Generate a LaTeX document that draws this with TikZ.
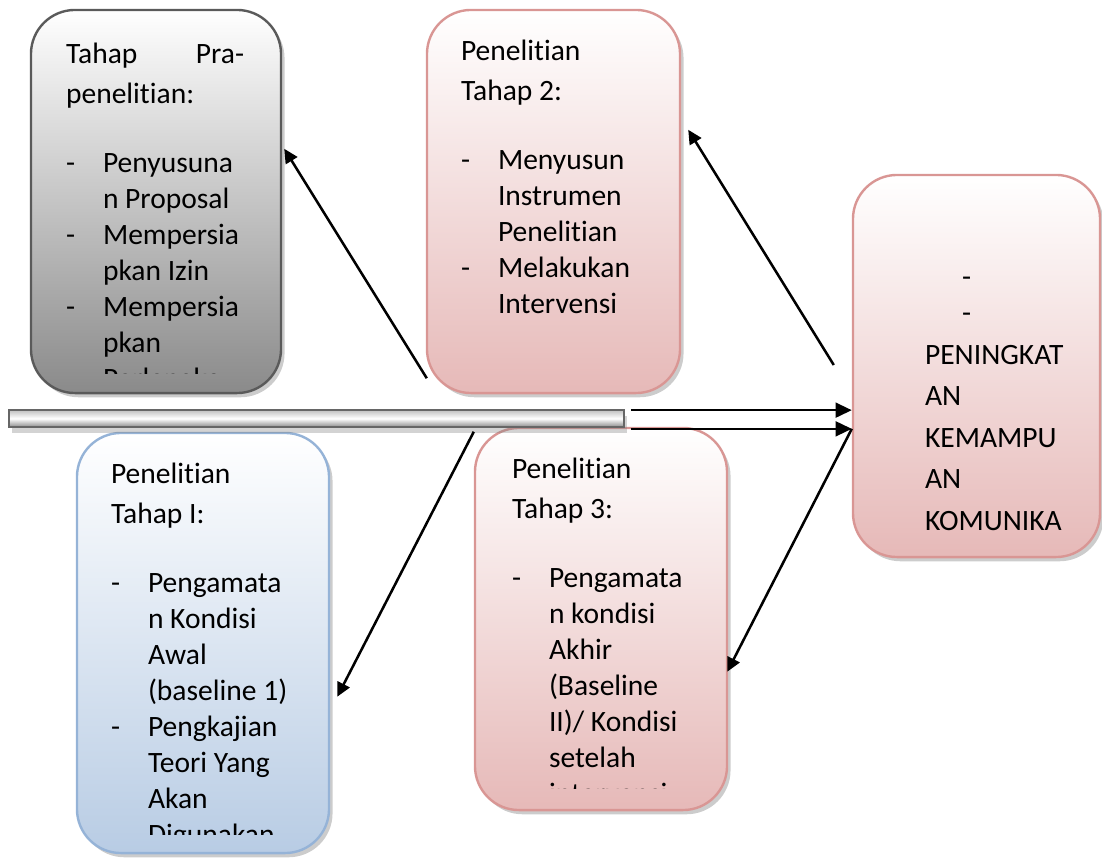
\documentclass[tikz,border=0pt]{standalone}
\usepackage{fontspec}
\setmainfont{Carlito}[Ligatures=NoCommon]
\usetikzlibrary{positioning,arrows.meta,shapes,calc,shadows}

\definecolor{pinkline}{HTML}{D99694}
\definecolor{pinkfill}{HTML}{E6B9B8}
\definecolor{blueline}{HTML}{95B3D7}
\definecolor{bluefill}{HTML}{B8CCE4}
\definecolor{grayline}{HTML}{5A5A5A}
\definecolor{grayfill}{HTML}{8A8A8A}

\newcommand{\butir}[1]{\makebox[26.3pt][l]{-}#1}
\newcommand{\lanjut}[1]{\hspace*{26.3pt}#1}

\tikzset{
  stage/.style={draw, line width=1.7pt, rectangle, rounded corners=1.1cm,
    drop shadow={shadow xshift=2.5pt, shadow yshift=-3pt, opacity=.4}},
  graybox/.style={stage, draw=grayline, top color=white, bottom color=grayfill},
  pinkbox/.style={stage, draw=pinkline, top color=white, bottom color=pinkfill},
  bluebox/.style={stage, draw=blueline, top color=white, bottom color=bluefill},
  arr/.style={-{Triangle[length=10pt,width=9.5pt]}, line width=1.8pt},
  arrbig/.style={-{Triangle[length=11.5pt,width=10.5pt]}, line width=1.8pt},
  txt/.style={anchor=base west, inner sep=0pt, font=\fontsize{21}{25.6}\selectfont},
}

\begin{document}
\begin{tikzpicture}[x=0.025cm, y=-0.025cm]
        \useasboundingbox (0,0) rectangle (1102,861);

        % Stage boxes
        \node[graybox, minimum width=6.25cm, minimum height=9.575cm] (pre) at (156,201.5) {};
        \node[pinkbox, minimum width=6.325cm, minimum height=9.575cm] (t2) at (553.5,201.5) {};
        \node[bluebox, minimum width=6.3cm, minimum height=10.5cm] (t1) at (203,643) {};
        \node[pinkbox, minimum width=6.3cm, minimum height=9.55cm] (t3) at (601,619) {};
        \node[pinkbox, minimum width=6.175cm, minimum height=9.55cm] (hasil) at (976.5,366) {};

        % Main bar
        \node[draw=black!60, line width=1.2pt, rectangle, top color=black!25, bottom color=black!45, middle color=white,
              minimum width=15.375cm, minimum height=0.425cm,
              drop shadow={shadow xshift=2pt, shadow yshift=-4.5pt, opacity=.35}] (bar) at (316.5,418.5) {};

        % Texts (clipped to the boxes)
        \begin{scope}
            \clip (pre.north west) rectangle ($(pre.south east)+(0,-21)$);
            \node[txt] (preText) at ($(pre.north west)+(36,55)$) {\parbox[t]{128pt}{%
                \makebox[126.6pt]{Tahap\hfill Pra-}\\[2.8pt]
                penelitian:\\[23.5pt]
                \butir{Penyusuna}\\
                \lanjut{n Proposal}\\
                \butir{Mempersia}\\
                \lanjut{pkan Izin}\\
                \butir{Mempersia}\\
                \lanjut{pkan}\\
                \lanjut{Perlengkapan}}};
        \end{scope}

        \node[txt] (t2Text) at ($(t2.north west)+(35,52)$) {\parbox[t]{140pt}{%
            Penelitian\\[2.8pt]
            Tahap 2:\\[23.5pt]
            \butir{Menyusun}\\
            \lanjut{Instrumen}\\
            \lanjut{Penelitian}\\
            \butir{Melakukan}\\
            \lanjut{Intervensi}}};

        \begin{scope}
            \clip (t1.north west) rectangle ($(t1.south east)+(0,-20)$);
            \node[txt] (t1Text) at ($(t1.north west)+(35,52)$) {\parbox[t]{140pt}{%
                Penelitian\\[2.8pt]
                Tahap I:\\[23.5pt]
                \butir{Pengamata}\\
                \lanjut{n Kondisi}\\
                \lanjut{Awal}\\
                \lanjut{(baseline 1)}\\
                \butir{Pengkajian}\\
                \lanjut{Teori Yang}\\
                \lanjut{Akan}\\
                \lanjut{Digunakan}}};
        \end{scope}

        \begin{scope}
            \clip (t3.north west) rectangle ($(t3.south east)+(0,-23)$);
            \node[txt] (t3Text) at ($(t3.north west)+(38,52)$) {\parbox[t]{140pt}{%
                Penelitian\\[2.8pt]
                Tahap 3:\\[23.5pt]
                \butir{Pengamata}\\
                \lanjut{n kondisi}\\
                \lanjut{Akhir}\\
                \lanjut{(Baseline}\\
                \lanjut{II)/ Kondisi}\\
                \lanjut{setelah}\\
                \lanjut{intervensi}}};
        \end{scope}

        \node[txt] (hasilText) at ($(hasil.north west)+(73,113)$) {\parbox[t]{140pt}{%
            \lanjut{-}\\
            \lanjut{-}\\[3.9pt]
            PENINGKAT\\[3.9pt]
            AN\\[3.9pt]
            KEMAMPU\\[3.9pt]
            AN\\[3.9pt]
            KOMUNIKA}};

        % Arrows
        \coordinate (h1) at ($(bar.north east)+(6,1)$);
        \coordinate (h2) at ($(bar.south east)+(6,1)$);
        \draw[arrbig] (h1) -- (h1 -| hasil.west);
        \draw[arrbig] (h2) -- (h2 -| hasil.west);
        \draw[arr] ($(t2.south west)+(1,-16)$) -- ($(pre.north east)+(2,140)$);
        \draw[arr] ($(hasil.west)+(-18,-1)$) -- ($(t2.north east)+(7,121)$);
        \draw[arr] ($(t3.north west)+(0,5)$) -- ($(t1.north east)+(7,265)$);
        \draw[arr] (h2 -| hasil.west) -- ($(t3.north east)+(-1,245)$);
    \end{tikzpicture}
\end{document}
